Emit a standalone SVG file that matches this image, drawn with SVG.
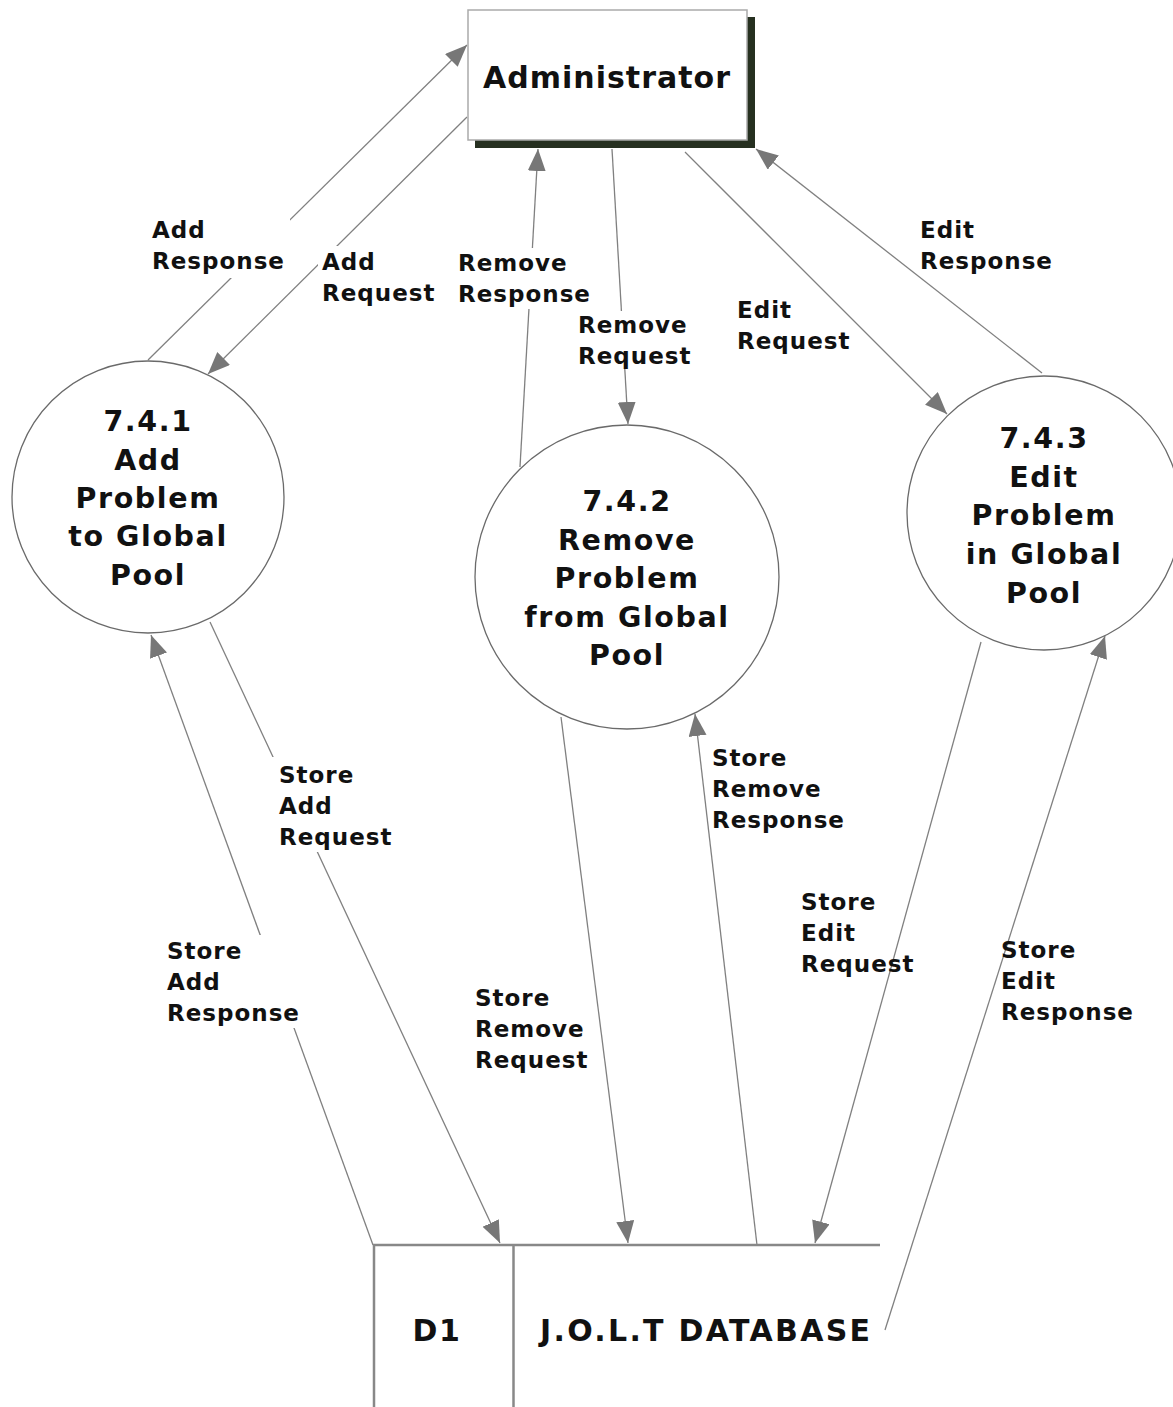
<svg xmlns="http://www.w3.org/2000/svg" width="1173" height="1407" viewBox="0 0 1173 1407">
<style>
.bg{fill:#ffffff}
.flow{stroke:#808080;stroke-width:1.3;fill:none;marker-end:url(#ah)}
.proc{fill:#ffffff;stroke:#6a6a6a;stroke-width:1.3}
.ptxt{font-family:"DejaVu Sans","Liberation Sans",sans-serif;font-weight:bold;font-size:28.5px;letter-spacing:1.6px;fill:#111;text-anchor:middle}
.lbl{font-family:"DejaVu Sans","Liberation Sans",sans-serif;font-weight:bold;font-size:23px;letter-spacing:1px;fill:#111}
.lblbg{fill:#ffffff}
.big{font-family:"DejaVu Sans","Liberation Sans",sans-serif;font-weight:bold;font-size:30px;fill:#111}
.store{stroke:#888;stroke-width:2.5;fill:none}
</style>
<defs>
<marker id="ah" markerUnits="userSpaceOnUse" markerWidth="24" markerHeight="20" refX="22" refY="9" orient="auto">
<path d="M0,0 L22,9 L0,18 z" fill="#777"/>
</marker>
</defs>
<rect class="bg" x="0" y="0" width="1173" height="1407"/>

<g id="connectors">
<line id="e-add-response" class="flow" x1="148" y1="360" x2="467" y2="45"/>
<line id="e-add-request" class="flow" x1="467" y1="117" x2="208" y2="374"/>
<line id="e-remove-response" class="flow" x1="520" y1="467" x2="538" y2="149"/>
<line id="e-remove-request" class="flow" x1="612" y1="149" x2="628" y2="424"/>
<line id="e-edit-request" class="flow" x1="685" y1="152" x2="947" y2="414"/>
<line id="e-edit-response" class="flow" x1="1042" y1="373" x2="756" y2="149"/>
<line id="e-store-add-response" class="flow" x1="373" y1="1245" x2="151" y2="635"/>
<line id="e-store-add-request" class="flow" x1="210" y1="622" x2="500" y2="1243"/>
<line id="e-store-remove-request" class="flow" x1="561" y1="717" x2="628" y2="1243"/>
<line id="e-store-remove-response" class="flow" x1="757" y1="1245" x2="695" y2="714"/>
<line id="e-store-edit-request" class="flow" x1="981" y1="642" x2="815" y2="1243"/>
<line id="e-store-edit-response" class="flow" x1="885" y1="1330" x2="1105" y2="636"/>
</g>

<g id="labels">
<g id="l-add-response"><rect class="lblbg" x="148" y="215" width="142" height="63"/><text class="lbl" x="152" y="238">Add</text><text class="lbl" x="152" y="269">Response</text></g>
<g id="l-add-request"><rect class="lblbg" x="318" y="246" width="119" height="62"/><text class="lbl" x="322" y="270">Add</text><text class="lbl" x="322" y="301">Request</text></g>
<g id="l-remove-response"><rect class="lblbg" x="455" y="248" width="137" height="61"/><text class="lbl" x="458" y="271">Remove</text><text class="lbl" x="458" y="302">Response</text></g>
<g id="l-remove-request"><rect class="lblbg" x="575" y="311" width="117" height="58"/><text class="lbl" x="578" y="333">Remove</text><text class="lbl" x="578" y="364">Request</text></g>
<g id="l-edit-request"><text class="lbl" x="737" y="318">Edit</text><text class="lbl" x="737" y="349">Request</text></g>
<g id="l-edit-response"><text class="lbl" x="920" y="238">Edit</text><text class="lbl" x="920" y="269">Response</text></g>
<g id="l-store-add-request"><rect class="lblbg" x="272" y="757" width="123" height="95"/><text class="lbl" x="279" y="783">Store</text><text class="lbl" x="279" y="814">Add</text><text class="lbl" x="279" y="845">Request</text></g>
<g id="l-store-remove-response"><text class="lbl" x="712" y="766">Store</text><text class="lbl" x="712" y="797">Remove</text><text class="lbl" x="712" y="828">Response</text></g>
<g id="l-store-add-response"><rect class="lblbg" x="162" y="935" width="140" height="93"/><text class="lbl" x="167" y="959">Store</text><text class="lbl" x="167" y="990">Add</text><text class="lbl" x="167" y="1021">Response</text></g>
<g id="l-store-remove-request"><text class="lbl" x="475" y="1006">Store</text><text class="lbl" x="475" y="1037">Remove</text><text class="lbl" x="475" y="1068">Request</text></g>
<g id="l-store-edit-request"><text class="lbl" x="801" y="910">Store</text><text class="lbl" x="801" y="941">Edit</text><text class="lbl" x="801" y="972">Request</text></g>
<g id="l-store-edit-response"><text class="lbl" x="1001" y="958">Store</text><text class="lbl" x="1001" y="989">Edit</text><text class="lbl" x="1001" y="1020">Response</text></g>
</g>

<g id="administrator">
<rect x="475" y="17" width="280" height="131" fill="#263020"/>
<rect x="468" y="10" width="279" height="130" fill="#ffffff" stroke="#aaaaaa" stroke-width="1.5"/>
<text class="big" x="607" y="88" text-anchor="middle" letter-spacing="1">Administrator</text>
</g>

<g id="p741">
<circle class="proc" cx="148" cy="497" r="136"/>
<text class="ptxt" x="148" y="431">7.4.1</text>
<text class="ptxt" x="148" y="470">Add</text>
<text class="ptxt" x="148" y="508">Problem</text>
<text class="ptxt" x="148" y="546">to Global</text>
<text class="ptxt" x="148" y="585">Pool</text>
</g>

<g id="p742">
<circle class="proc" cx="627" cy="577" r="152"/>
<text class="ptxt" x="627" y="511">7.4.2</text>
<text class="ptxt" x="627" y="550">Remove</text>
<text class="ptxt" x="627" y="588">Problem</text>
<text class="ptxt" x="627" y="627">from Global</text>
<text class="ptxt" x="627" y="665">Pool</text>
</g>

<g id="p743">
<circle class="proc" cx="1044" cy="513" r="137"/>
<text class="ptxt" x="1044" y="448">7.4.3</text>
<text class="ptxt" x="1044" y="487">Edit</text>
<text class="ptxt" x="1044" y="525">Problem</text>
<text class="ptxt" x="1044" y="564">in Global</text>
<text class="ptxt" x="1044" y="603">Pool</text>
</g>

<g id="d1">
<path class="store" d="M880,1245 H374 V1407"/>
<path class="store" d="M513.5,1245 V1407"/>
<text class="big" x="437" y="1341" text-anchor="middle" letter-spacing="1.5">D1</text>
<text class="big" x="540" y="1341" letter-spacing="2.3">J.O.L.T DATABASE</text>
</g>
</svg>
